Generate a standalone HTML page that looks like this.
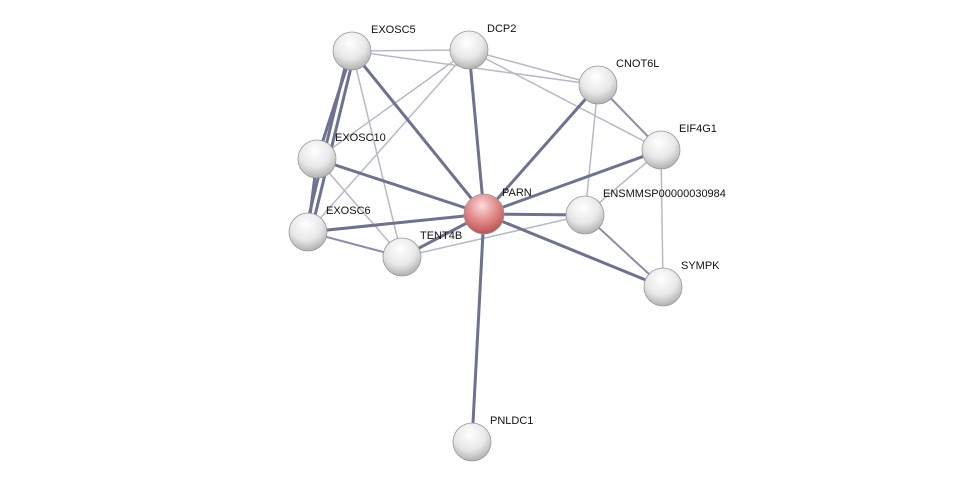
<!DOCTYPE html>
<html><head><meta charset="utf-8"><style>
html,body{margin:0;padding:0;background:#fff;}
svg{display:block;}
text{font-family:"Liberation Sans",Arial,sans-serif;font-size:11px;fill:#111;}
</style></head><body>
<svg width="975" height="487" viewBox="0 0 975 487" xmlns="http://www.w3.org/2000/svg">
<defs>
<radialGradient id="g" cx="0.45" cy="0.3" r="0.75">
<stop offset="0" stop-color="#ffffff"/><stop offset="0.55" stop-color="#e8e8e8"/><stop offset="1" stop-color="#a8a8a8"/>
</radialGradient>
<radialGradient id="r" cx="0.45" cy="0.3" r="0.75">
<stop offset="0" stop-color="#fbdada"/><stop offset="0.5" stop-color="#e28a8a"/><stop offset="1" stop-color="#b44a4a"/>
</radialGradient>
</defs>
<g stroke="#b8b8c8" stroke-width="1.5" fill="none">
<line x1="352" y1="51" x2="469" y2="50"/>
<line x1="352" y1="51" x2="598" y2="85"/>
<line x1="469" y1="50" x2="598" y2="85"/>
<line x1="469" y1="50" x2="661" y2="150"/>
<line x1="469" y1="50" x2="317" y2="159"/>
<line x1="469" y1="50" x2="308" y2="232"/>
<line x1="352" y1="51" x2="402" y2="257"/>
<line x1="317" y1="159" x2="402" y2="257"/>
<line x1="598" y1="85" x2="585" y2="215"/>
<line x1="661" y1="150" x2="585" y2="215"/>
<line x1="661" y1="150" x2="663" y2="287"/>
<line x1="402" y1="257" x2="585" y2="215"/>
</g>
<g stroke="#8a8ea8" stroke-width="2" fill="none">
<line x1="598" y1="85" x2="661" y2="150"/>
<line x1="308" y1="232" x2="402" y2="257"/>
<line x1="585" y1="215" x2="663" y2="287"/>
</g>
<g stroke="#6d7290" stroke-width="3" fill="none">
<line x1="484" y1="214" x2="472" y2="442"/>
<line x1="484" y1="214" x2="352" y2="51"/>
<line x1="484" y1="214" x2="469" y2="50"/>
<line x1="484" y1="214" x2="598" y2="85"/>
<line x1="484" y1="214" x2="661" y2="150"/>
<line x1="484" y1="214" x2="585" y2="215"/>
<line x1="484" y1="214" x2="663" y2="287"/>
<line x1="484" y1="214" x2="308" y2="232"/>
<line x1="484" y1="214" x2="317" y2="159"/>
<line x1="484" y1="214" x2="402" y2="257"/>
<line x1="352" y1="51" x2="317" y2="159"/>
<line x1="349" y1="51" x2="305" y2="232"/>
<line x1="355" y1="51" x2="311" y2="232"/>
<line x1="317" y1="159" x2="308" y2="232"/>
</g>
<g stroke="#999" stroke-width="0.8">
<circle cx="352" cy="51" r="19" fill="url(#g)"/>
<circle cx="469" cy="50" r="19" fill="url(#g)"/>
<circle cx="598" cy="85" r="19" fill="url(#g)"/>
<circle cx="661" cy="150" r="19" fill="url(#g)"/>
<circle cx="317" cy="159" r="19" fill="url(#g)"/>
<circle cx="585" cy="215" r="19" fill="url(#g)"/>
<circle cx="308" cy="232" r="19" fill="url(#g)"/>
<circle cx="402" cy="257" r="19" fill="url(#g)"/>
<circle cx="663" cy="287" r="19" fill="url(#g)"/>
<circle cx="472" cy="442" r="19" fill="url(#g)"/>
<circle cx="484" cy="214" r="20" fill="url(#r)"/>
</g>
<text x="371" y="33">EXOSC5</text>
<text x="487" y="32">DCP2</text>
<text x="616" y="67">CNOT6L</text>
<text x="679" y="132">EIF4G1</text>
<text x="335" y="141">EXOSC10</text>
<text x="502" y="196">PARN</text>
<text x="603" y="197">ENSMMSP00000030984</text>
<text x="326" y="214">EXOSC6</text>
<text x="420" y="239">TENT4B</text>
<text x="681" y="269">SYMPK</text>
<text x="490" y="424">PNLDC1</text>
</svg>
</body></html>
